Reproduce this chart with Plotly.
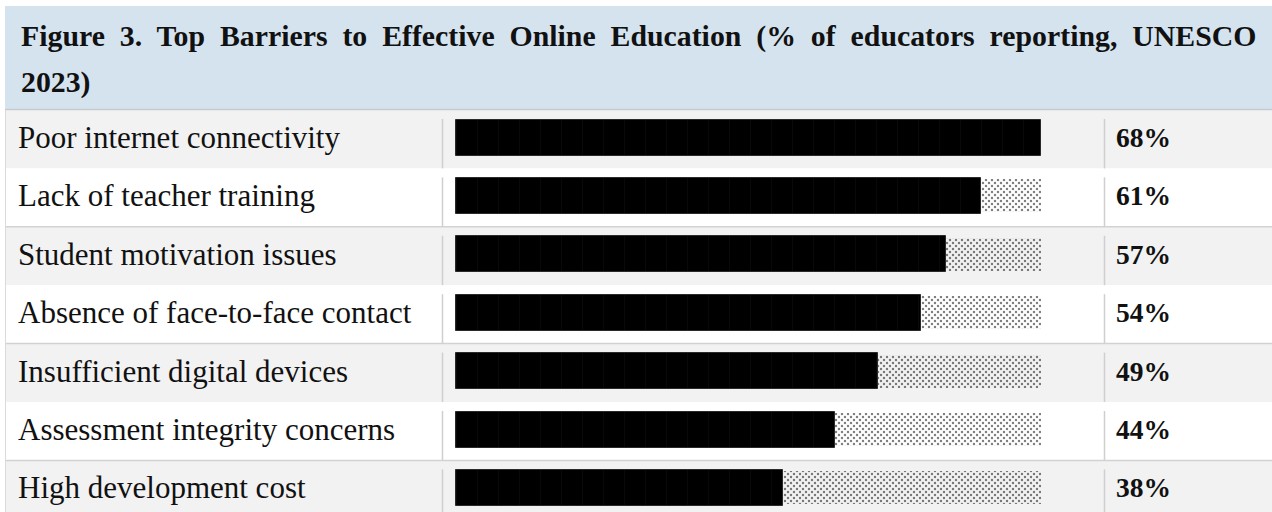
import plotly.graph_objects as go

# ---------------- data ----------------
categories = [
    "Poor internet connectivity",
    "Lack of teacher training",
    "Student motivation issues",
    "Absence of face-to-face contact",
    "Insufficient digital devices",
    "Assessment integrity concerns",
    "High development cost",
]
values = [68, 61, 57, 54, 49, 44, 38]
value_labels = ["68%", "61%", "57%", "54%", "49%", "44%", "38%"]
title_line1 = "Figure 3. Top Barriers to Effective Online Education (% of educators reporting, UNESCO"
title_line2 = "2023)"
scale_max = 68

# ---------------- geometry (pixels) ----------------
W, H = 1272, 512
FONT = "Palatino Linotype, Book Antiqua, Palatino, Liberation Serif, serif"
ROW_TOP = 110.0
ROW_H = 58.4
TEXT_OFF = 27.5
BAR_H = 36.0
TRACK_L, TRACK_R = 456.0, 1041.0
PX_PER_UNIT = (TRACK_R - TRACK_L) / scale_max
DOT = 6


def xp(px):
    return px / W


def yp(py):
    return 1 - py / H


def x_axis(left_px):
    dom = [left_px / W, TRACK_R / W]
    rng = [-(TRACK_L - left_px) / PX_PER_UNIT, scale_max]
    return dom, rng


def y_axis(top_px):
    c0 = ROW_TOP + TEXT_OFF
    dom = [0, 1 - top_px / H]
    rng = [(H - c0) / ROW_H, (top_px - c0) / ROW_H]
    return dom, rng


remainder = [scale_max - v for v in values]

fig = go.Figure()

# solid (block) part of each bar
fig.add_trace(go.Bar(
    y=categories, x=values, orientation="h", xaxis="x", yaxis="y",
    width=BAR_H / ROW_H, hoverinfo="skip", showlegend=False,
    marker=dict(color="#000000", line=dict(color="#2a2a2a", width=1),
                pattern=dict(shape="|", size=21, solidity=0.04,
                             fgcolor="#161616", bgcolor="#000000")),
))

# dotted (shade) remainder - two staggered dot grids
dot_marker = dict(color="rgba(0,0,0,0)", line=dict(width=0),
                  pattern=dict(shape=".", size=DOT, solidity=0.13,
                               fgcolor="#000000", bgcolor="rgba(0,0,0,0)"))
for xa, ya in (("x", "y"), ("x2", "y2")):
    fig.add_trace(go.Bar(
        y=categories, x=remainder, base=values, orientation="h",
        xaxis=xa, yaxis=ya, width=(BAR_H - 3) / ROW_H,
        hoverinfo="skip", showlegend=False, marker=dot_marker,
    ))

dx1, rx1 = x_axis(446.0)
dy1, ry1 = y_axis(0.0)
dx2, rx2 = x_axis(446.0 + DOT / 2)
dy2, ry2 = y_axis(DOT / 2)
ax_common = dict(visible=False, showgrid=False, zeroline=False, fixedrange=True)
ycat = dict(type="category", categoryorder="array", categoryarray=categories)

# ---------------- table shapes ----------------
shapes = []
shapes.append(dict(type="rect", xref="paper", yref="paper", layer="below",
                   x0=xp(5), x1=1, y0=yp(109), y1=yp(6),
                   fillcolor="#d5e3ef", line=dict(width=0)))
for i in range(len(categories)):
    top = ROW_TOP + i * ROW_H
    bot = top + ROW_H
    shapes.append(dict(type="rect", xref="paper", yref="paper", layer="below",
                       x0=xp(5), x1=1, y0=yp(bot), y1=yp(top),
                       fillcolor="#f2f2f2" if i % 2 == 0 else "#ffffff",
                       line=dict(width=0)))
for i in range(len(categories)):
    top = ROW_TOP + i * ROW_H
    bot = top + ROW_H
    if i % 2 == 1:
        shapes.append(dict(type="line", xref="paper", yref="paper", layer="below",
                           x0=xp(5), x1=1, y0=yp(bot), y1=yp(bot),
                           line=dict(color="#d2d2d2", width=1.5)))
    for sx in (442.5, 1104.5):
        shapes.append(dict(type="line", xref="paper", yref="paper", layer="below",
                           x0=xp(sx), x1=xp(sx), y0=yp(top + 9), y1=yp(bot),
                           line=dict(color="#cfcfcf", width=1.5)))
shapes.append(dict(type="line", xref="paper", yref="paper", layer="below",
                   x0=xp(5), x1=1, y0=yp(109.5), y1=yp(109.5),
                   line=dict(color="#c6cacd", width=1.5)))
shapes.append(dict(type="line", xref="paper", yref="paper", layer="below",
                   x0=xp(5.5), x1=xp(5.5), y0=yp(512), y1=yp(110),
                   line=dict(color="#dadada", width=1)))

# ---------------- text ----------------
annotations = []
gap = "\u00a0 "
annotations.append(dict(xref="paper", yref="paper", x=xp(19), y=yp(35.9),
                        xanchor="left", yanchor="middle", showarrow=False,
                        text=gap.join(title_line1.split(" ")),
                        font=dict(family=FONT, size=29.8, color="#111111", weight="bold")))
annotations.append(dict(xref="paper", yref="paper", x=xp(19), y=yp(81.8),
                        xanchor="left", yanchor="middle", showarrow=False,
                        text=title_line2,
                        font=dict(family=FONT, size=29.8, color="#111111", weight="bold")))
for i, (cat, lab) in enumerate(zip(categories, value_labels)):
    cy = ROW_TOP + i * ROW_H + TEXT_OFF
    annotations.append(dict(xref="paper", yref="paper", x=xp(16), y=yp(cy),
                            xanchor="left", yanchor="middle", showarrow=False,
                            text=cat,
                            font=dict(family=FONT, size=31, color="#111111")))
    annotations.append(dict(xref="paper", yref="paper", x=xp(1114), y=yp(cy),
                            xanchor="left", yanchor="middle", showarrow=False,
                            text=lab,
                            font=dict(family=FONT, size=27.5, color="#111111", weight="bold")))

fig.update_layout(
    width=W, height=H, autosize=False,
    margin=dict(l=0, r=0, t=0, b=0, pad=0),
    paper_bgcolor="#ffffff", plot_bgcolor="rgba(0,0,0,0)",
    barmode="overlay", bargap=0,
    xaxis=dict(domain=dx1, range=rx1, **ax_common),
    yaxis=dict(domain=dy1, range=ry1, **ycat, **ax_common),
    xaxis2=dict(domain=dx2, range=rx2, anchor="y2", **ax_common),
    yaxis2=dict(domain=dy2, range=ry2, anchor="x2", **ycat, **ax_common),
    shapes=shapes, annotations=annotations,
    showlegend=False,
)

fig.write_html("out.html", config={"displayModeBar": False})
